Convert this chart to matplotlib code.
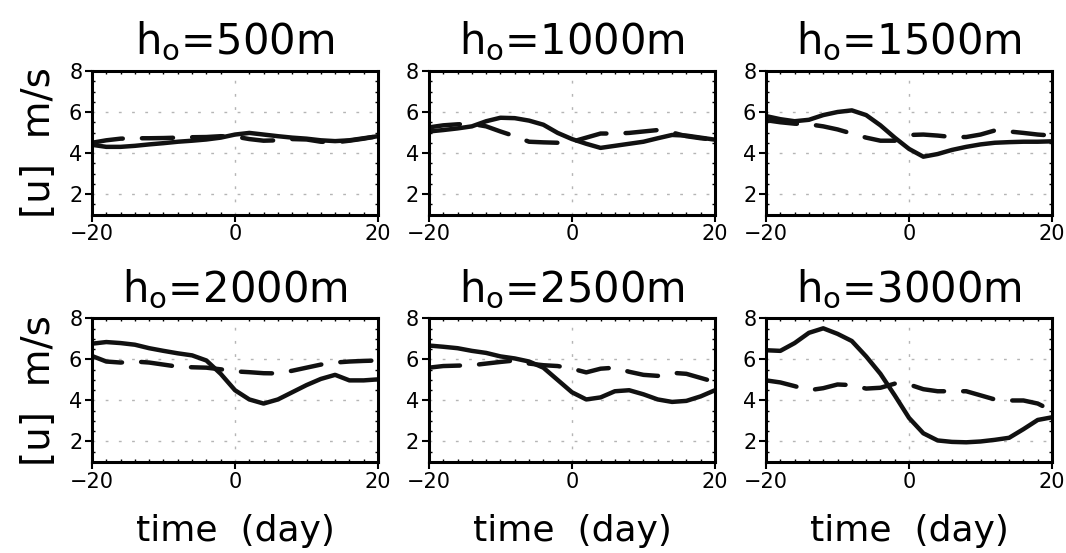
import matplotlib
matplotlib.use('Agg')
import matplotlib.pyplot as plt
from matplotlib.ticker import MultipleLocator

days = list(range(-20, 21, 2))
heights = ['500', '1000', '1500', '2000', '2500', '3000']

solid_500 = [4.4, 4.3, 4.3, 4.35, 4.42, 4.48, 4.55, 4.6, 4.66, 4.75, 4.9,
             4.98, 4.9, 4.82, 4.75, 4.7, 4.62, 4.58, 4.62, 4.72, 4.82]
dash_500 = [4.5, 4.62, 4.7, 4.72, 4.72, 4.73, 4.75, 4.77, 4.78, 4.82, 4.8,
            4.68, 4.6, 4.62, 4.68, 4.66, 4.55, 4.52, 4.6, 4.7, 4.82]
solid_1000 = [5.05, 5.12, 5.2, 5.3, 5.55, 5.72, 5.7, 5.58, 5.38, 4.98, 4.68,
              4.45, 4.25, 4.35, 4.45, 4.55, 4.72, 4.88, 4.85, 4.75, 4.65]
dash_1000 = [5.25, 5.35, 5.4, 5.42, 5.3, 5.05, 4.82, 4.55, 4.52, 4.5, 4.55,
             4.75, 4.95, 4.95, 4.98, 5.05, 5.12, 5.0, 4.82, 4.72, 4.65]
solid_1500 = [5.8, 5.65, 5.55, 5.62, 5.85, 6.0, 6.08, 5.85, 5.35, 4.75, 4.2,
              3.82, 3.95, 4.15, 4.3, 4.42, 4.5, 4.53, 4.55, 4.55, 4.57]
dash_1500 = [5.6, 5.5, 5.43, 5.4, 5.3, 5.15, 4.95, 4.75, 4.6, 4.6, 4.88,
             4.9, 4.85, 4.78, 4.78, 4.9, 5.1, 5.05, 4.98, 4.9, 4.85]
solid_2000 = [6.77, 6.85, 6.8, 6.72, 6.55, 6.42, 6.3, 6.2, 5.95, 5.3, 4.5,
              4.05, 3.85, 4.05, 4.4, 4.75, 5.05, 5.25, 4.98, 4.98, 5.03]
dash_2000 = [6.17, 5.9, 5.85, 5.9, 5.85, 5.75, 5.65, 5.62, 5.6, 5.52, 5.42,
             5.38, 5.33, 5.32, 5.45, 5.6, 5.75, 5.85, 5.9, 5.93, 5.95]
solid_2500 = [6.68, 6.62, 6.55, 6.42, 6.32, 6.15, 6.05, 5.9, 5.6, 5.0, 4.4,
              4.05, 4.15, 4.45, 4.5, 4.3, 4.05, 3.93, 3.98, 4.2, 4.5]
dash_2500 = [5.6, 5.68, 5.7, 5.72, 5.8, 5.88, 5.95, 5.8, 5.72, 5.68, 5.55,
             5.37, 5.55, 5.6, 5.4, 5.25, 5.2, 5.35, 5.3, 5.1, 4.9]
solid_3000 = [6.45, 6.42, 6.8, 7.3, 7.52, 7.25, 6.9, 6.15, 5.3, 4.25, 3.15,
              2.4, 2.05, 1.98, 1.96, 2.0, 2.08, 2.18, 2.6, 3.05, 3.18]
dash_3000 = [4.98, 4.88, 4.7, 4.5, 4.6, 4.78, 4.75, 4.58, 4.62, 4.82, 4.78,
             4.55, 4.45, 4.45, 4.45, 4.25, 4.05, 4.0, 4.0, 3.85, 3.5]

solids = [solid_500, solid_1000, solid_1500, solid_2000, solid_2500, solid_3000]
dashes = [dash_500, dash_1000, dash_1500, dash_2000, dash_2500, dash_3000]

fig = plt.figure(figsize=(10.66, 5.53), dpi=100)
lefts = [0.0863, 0.4024, 0.7186]
bottoms = [0.6121, 0.1646]
w, h = 0.2683, 0.2595

for i in range(6):
    row, col = divmod(i, 3)
    ax = fig.add_axes([lefts[col], bottoms[row], w, h])
    ax.plot(days, solids[i], color='#111111', lw=3.2, solid_capstyle='round',
            solid_joinstyle='round')
    ax.plot(days, dashes[i], color='#111111', lw=3.2, linestyle=(0, (7, 4.3)),
            dash_capstyle='round', dash_joinstyle='round')
    ax.set_xlim(-20, 20)
    ax.set_ylim(1, 8)
    ax.set_xticks([-20, 0, 20])
    ax.set_yticks([2, 4, 6, 8])
    ax.xaxis.set_minor_locator(MultipleLocator(2))
    ax.yaxis.set_minor_locator(MultipleLocator(0.5))
    ax.tick_params(which='major', direction='out', length=5, width=1.5,
                   labelsize=15, pad=2)
    ax.tick_params(which='minor', direction='in', length=2, width=1,
                   top=True, right=True)
    for sp in ax.spines.values():
        sp.set_linewidth(2.2)
    for y in [2, 4, 6]:
        ax.axhline(y, color='#b5b5b5', lw=1, linestyle=(0, (2, 7.5)), zorder=0)
    ax.axvline(0, color='#b5b5b5', lw=1, linestyle=(0, (2, 7.5)), zorder=0)
    ax.set_title(r'h$_\mathregular{o}$=' + heights[i] + 'm', fontsize=30, pad=12)
    if col == 0:
        ax.set_ylabel('[u]  m/s', fontsize=28, labelpad=8)
    if row == 1:
        ax.set_xlabel('time  (day)', fontsize=26, labelpad=16)

fig.savefig('out.png', dpi=100)
